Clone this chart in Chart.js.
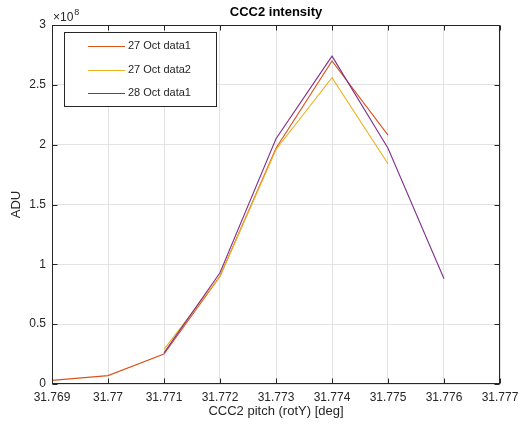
<!DOCTYPE html>
<html>
<head>
<meta charset="utf-8">
<script src="https://cdn.jsdelivr.net/npm/chart.js@4.4.0/dist/chart.umd.min.js"></script>
<style>
  html, body { margin: 0; padding: 0; background: #ffffff; }
  #wrap { width: 520px; height: 427px; }
</style>
</head>
<body>
<div id="wrap"><canvas id="c" width="520" height="427"></canvas></div>
<script>
// Data (ADU values; axis shows ×10^8)
const pitch27a = [31.769, 31.770, 31.771, 31.772, 31.773, 31.774, 31.775];
const adu27a   = [0.03e8, 0.07e8, 0.25e8, 0.90e8, 1.97e8, 2.70e8, 2.08e8];

const pitch27b = [31.771, 31.772, 31.773, 31.774, 31.775];
const adu27b   = [0.29e8, 0.90e8, 1.96e8, 2.56e8, 1.84e8];

const pitch28a = [31.771, 31.772, 31.773, 31.774, 31.775, 31.776];
const adu28a   = [0.26e8, 0.93e8, 2.05e8, 2.74e8, 1.97e8, 0.88e8];

const seriesLabels = ['27 Oct data1', '27 Oct data2', '28 Oct data1'];
const seriesColors = ['#D95319', '#EDB120', '#7E2F8E'];

const xMin = 31.769, xMax = 31.777, xStep = 0.001;
const yMin = 0, yMax = 3e8, yStep = 0.5e8;
const yExponent = 8;

const titleText = 'CCC2 intensity';
const xTitle = 'CCC2 pitch (rotY) [deg]';
const yTitle = 'ADU';

const FONT = '"Liberation Sans", Arial, Helvetica, sans-serif';
const AXIS_COLOR = '#262626';
const GRID_COLOR = '#e3e3e3';

function pts(xs, ys) { return xs.map((x, i) => ({ x: x, y: ys[i] })); }

const matlabPlugin = {
  id: 'matlabDecor',
  afterDraw(chart) {
    const ctx = chart.ctx;
    const a = chart.chartArea;
    const xs = chart.scales.x, ys = chart.scales.y;
    ctx.save();
    // box
    ctx.strokeStyle = AXIS_COLOR;
    ctx.lineWidth = 1;
    const L = Math.round(a.left) + 0.5, R = Math.round(a.right) - 0.5;
    const T = Math.round(a.top) + 0.5, B = Math.round(a.bottom) - 0.5;
    ctx.strokeRect(L, T, R - L, B - T);
    // inward ticks
    const tl = 5;
    ctx.beginPath();
    xs.ticks.forEach(t => {
      const px = Math.round(xs.getPixelForValue(t.value)) + 0.5;
      ctx.moveTo(px, B); ctx.lineTo(px, B - tl);
      ctx.moveTo(px, T); ctx.lineTo(px, T + tl);
    });
    ys.ticks.forEach(t => {
      const py = Math.round(ys.getPixelForValue(t.value)) + 0.5;
      ctx.moveTo(L, py); ctx.lineTo(L + tl, py);
      ctx.moveTo(R, py); ctx.lineTo(R - tl, py);
    });
    ctx.stroke();

    // title
    ctx.fillStyle = '#000000';
    ctx.font = 'bold 13px ' + FONT;
    ctx.textAlign = 'center';
    ctx.textBaseline = 'middle';
    ctx.fillText(titleText, (a.left + a.right) / 2, 12);

    // axis titles
    ctx.fillStyle = AXIS_COLOR;
    ctx.font = '13px ' + FONT;
    ctx.fillText(xTitle, (a.left + a.right) / 2, 411);
    ctx.save();
    ctx.translate(16, (a.top + a.bottom) / 2);
    ctx.rotate(-Math.PI / 2);
    ctx.fillText(yTitle, 0, 0);
    ctx.restore();

    // exponent label
    ctx.textAlign = 'left';
    ctx.textBaseline = 'alphabetic';
    ctx.font = '12px ' + FONT;
    ctx.fillStyle = AXIS_COLOR;
    ctx.fillText('\u00D710', 53, 21);
    const w = ctx.measureText('\u00D710').width;
    ctx.font = '9px ' + FONT;
    ctx.fillText(String(yExponent), 53 + w + 1, 15);

    // legend
    const lx = 64.5, ly = 32.5, lw = 152, lh = 74;
    ctx.fillStyle = '#ffffff';
    ctx.fillRect(lx, ly, lw, lh);
    ctx.strokeStyle = AXIS_COLOR;
    ctx.strokeRect(lx, ly, lw, lh);
    ctx.font = '11px ' + FONT;
    ctx.textBaseline = 'middle';
    const rows = [46, 69.5, 93];
    chart.data.datasets.forEach((ds, i) => {
      const y = rows[i];
      ctx.strokeStyle = ds.borderColor;
      ctx.lineWidth = 1;
      ctx.beginPath();
      ctx.moveTo(88, Math.round(y) + 0.5);
      ctx.lineTo(125, Math.round(y) + 0.5);
      ctx.stroke();
      ctx.fillStyle = AXIS_COLOR;
      ctx.fillText(ds.label, 128, y);
    });
    ctx.restore();
  }
};

const datasets = [
  { label: seriesLabels[0], data: pts(pitch27a, adu27a), borderColor: seriesColors[0], order: 3 },
  { label: seriesLabels[1], data: pts(pitch27b, adu27b), borderColor: seriesColors[1], order: 2 },
  { label: seriesLabels[2], data: pts(pitch28a, adu28a), borderColor: seriesColors[2], order: 1 }
].map(d => Object.assign(d, {
  showLine: true, pointRadius: 0, pointHoverRadius: 0, borderWidth: 1.1,
  backgroundColor: d.borderColor, tension: 0, fill: false
}));

new Chart(document.getElementById('c'), {
  type: 'scatter',
  data: { datasets: datasets },
  options: {
    responsive: false,
    animation: false,
    events: [],
    layout: { padding: { top: 25, right: 20, left: 0, bottom: 0 } },
    plugins: { legend: { display: false }, title: { display: false }, tooltip: { enabled: false } },
    scales: {
      x: {
        type: 'linear', min: xMin, max: xMax,
        afterBuildTicks(scale) {
          const t = [];
          const n = Math.round((xMax - xMin) / xStep);
          for (let i = 0; i <= n; i++) t.push({ value: +(xMin + i * xStep).toFixed(3) });
          scale.ticks = t;
        },
        afterFit(scale) {
          scale.height = 43;
          scale.paddingLeft = 0; scale.paddingRight = 0;
        },
        grid: { color: GRID_COLOR, drawTicks: false, lineWidth: 1 },
        border: { display: false },
        ticks: {
          padding: 6, color: AXIS_COLOR, maxRotation: 0, autoSkip: false,
          font: { family: FONT, size: 12 },
          callback: v => String(parseFloat(Number(v).toFixed(3)))
        }
      },
      y: {
        type: 'linear', min: yMin, max: yMax,
        ticks: {
          stepSize: yStep, padding: 6, color: AXIS_COLOR,
          font: { family: FONT, size: 12 },
          callback: v => String(parseFloat((v / Math.pow(10, yExponent)).toFixed(2)))
        },
        afterFit(scale) {
          scale.width = 52;
          scale.paddingTop = 0; scale.paddingBottom = 0;
        },
        grid: { color: GRID_COLOR, drawTicks: false, lineWidth: 1 },
        border: { display: false }
      }
    }
  },
  plugins: [matlabPlugin]
});
</script>
</body>
</html>
